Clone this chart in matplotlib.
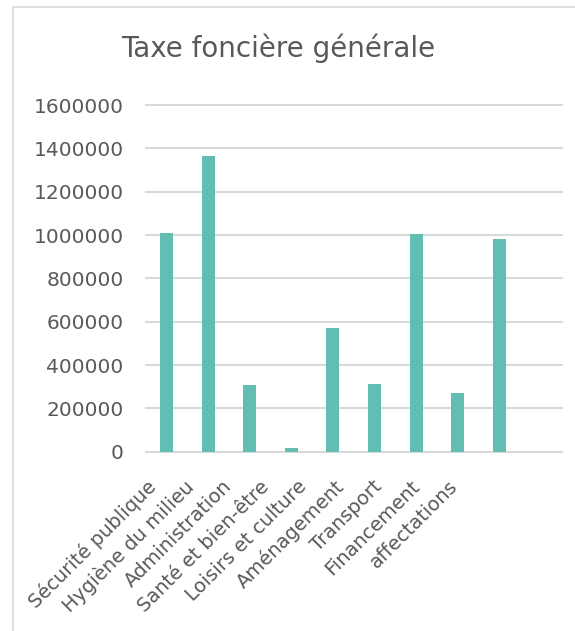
import numpy as np
import matplotlib.pyplot as plt
import matplotlib.transforms as mtransforms
from matplotlib.patches import Rectangle

# Data
categories = ["Sécurité publique", "Hygiène du milieu", "Administration",
              "Santé et bien-être", "Loisirs et culture", "Aménagement",
              "Transport", "Financement", "affectations", ""]
values = [1008000, 1364000, 308000, 18500, 572000, 311000,
          1005000, 271000, 980000]
yticks = [0, 200000, 400000, 600000, 800000, 1000000, 1200000, 1400000, 1600000]

bar_color = "#62BEB3"
text_color = "#595959"
grid_color = "#D9D9D9"

fig = plt.figure(figsize=(5.75, 6.31), dpi=100)

# chart frame (light border, cropped on the right and bottom)
fig.patches.append(Rectangle((13 / 575, -0.1), 1.2, (631 - 7) / 631 + 0.1,
                             transform=fig.transFigure, fill=False,
                             edgecolor="#D9D9D9", linewidth=1.2))

ax = fig.add_axes([0.2534, 0.2842, 0.7236, 0.5493])

x = np.arange(len(categories))
ax.bar(x[:len(values)], values, width=0.31, color=bar_color, zorder=3)

ax.set_xlim(-0.5, len(categories) - 0.5)
ax.set_ylim(0, 1600000)
ax.set_yticks(yticks)
ax.set_yticklabels([str(v) for v in yticks])
ax.yaxis.grid(True, color=grid_color, linewidth=1.5, zorder=0)
ax.set_axisbelow(True)
for gl in ax.get_ygridlines():
    gl.set_clip_on(False)

for s in ax.spines.values():
    s.set_visible(False)
ax.tick_params(axis="both", length=0, colors=text_color, labelsize=14.5)
ax.tick_params(axis="y", pad=16)

ax.set_xticks(x)
ax.set_xticklabels(categories, rotation=45, ha="right",
                   rotation_mode="anchor", va="center")
ax.tick_params(axis="x", pad=23, labelsize=14)

# Excel spaces the rotated labels a bit tighter than the bars
for i, lab in enumerate(ax.get_xticklabels()):
    off = mtransforms.ScaledTranslation(-(13 + 4 * i) / 100, 0, fig.dpi_scale_trans)
    lab.set_transform(lab.get_transform() + off)

fig.text(0.5 * (122 + 435) / 575, 1 - 48 / 631, "Taxe foncière générale",
         ha="center", va="center", fontsize=20, color=text_color)

fig.savefig("out.png", dpi=100)
